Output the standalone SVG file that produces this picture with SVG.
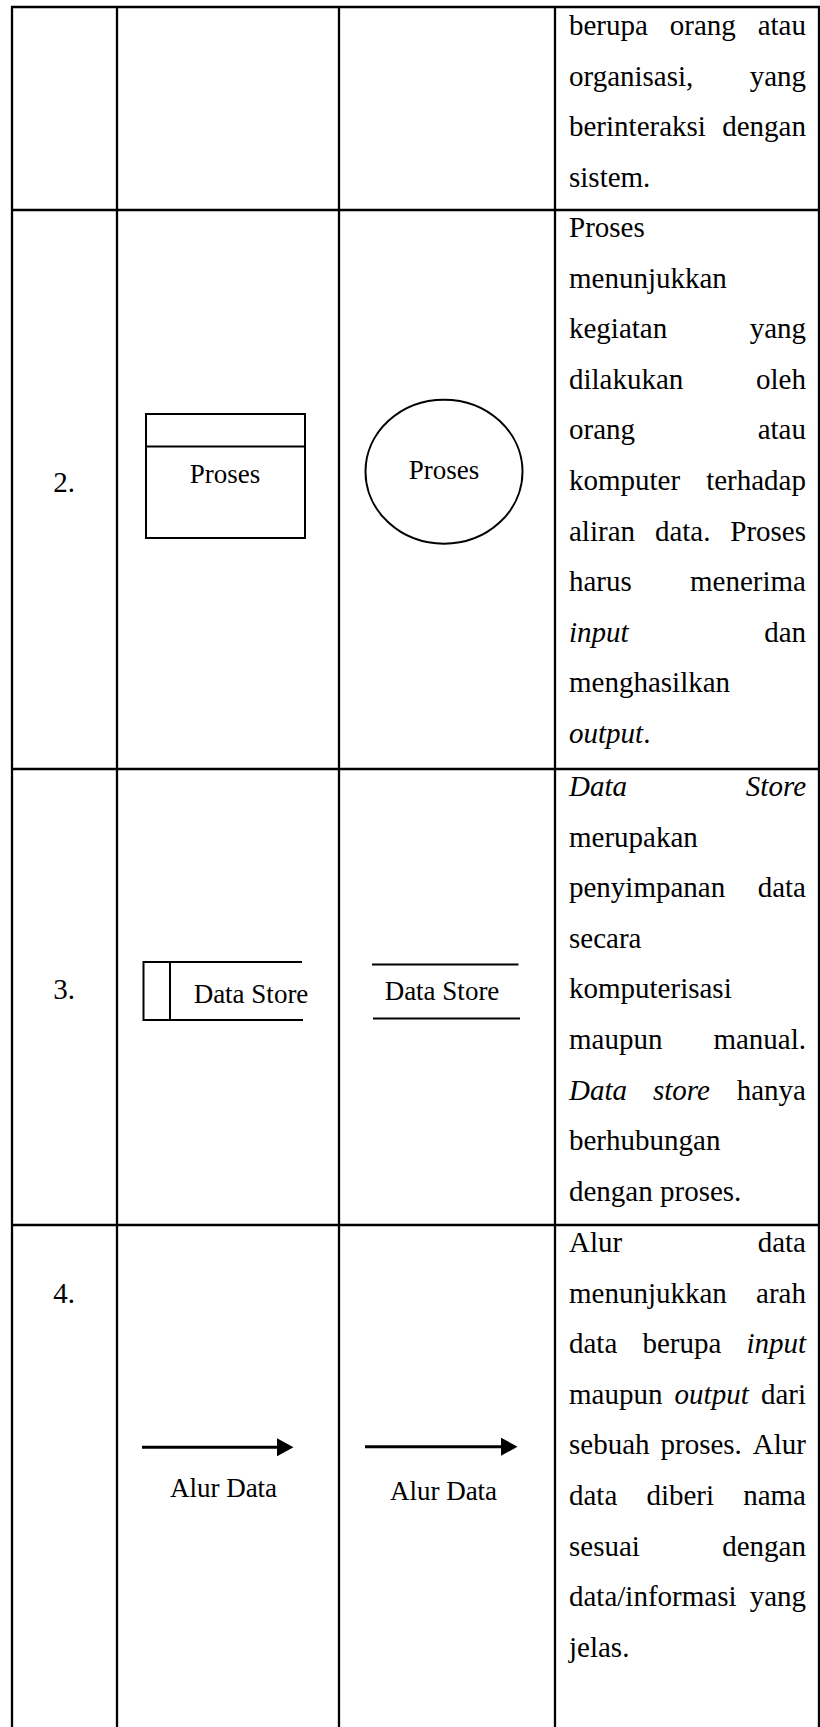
<svg xmlns="http://www.w3.org/2000/svg" width="820" height="1727" viewBox="0 0 820 1727">
<style>
.grid{stroke:#000;stroke-width:2.3;fill:none}
.shape{stroke:#000;stroke-width:2;fill:none}
.t{font-family:"Liberation Serif","Times New Roman",serif;font-size:29px;fill:#000}
.lbl{font-family:"Liberation Serif","Times New Roman",serif;font-size:27px;fill:#000}
.i{font-style:italic}
.e{text-anchor:end}
.m{text-anchor:middle}
</style>
<defs>
<marker id="ah" markerWidth="6" markerHeight="6" refX="0" refY="3" orient="auto" markerUnits="strokeWidth">
<path d="M0,0 L5.5,3 L0,6 Z" fill="#000"/>
</marker>
</defs>
<rect width="820" height="1727" fill="#fff"/>
<g id="table-grid" class="grid">
<line x1="11" y1="7" x2="820" y2="7"/>
<line x1="11" y1="210" x2="820" y2="210"/>
<line x1="11" y1="769" x2="820" y2="769"/>
<line x1="11" y1="1225" x2="820" y2="1225"/>
<line x1="12" y1="6" x2="12" y2="1727"/>
<line x1="117" y1="6" x2="117" y2="1727"/>
<line x1="339" y1="6" x2="339" y2="1727"/>
<line x1="555" y1="6" x2="555" y2="1727"/>
<line x1="819" y1="6" x2="819" y2="1727"/>
</g>
<g id="row1-desc" class="t">
<text x="569" y="35">berupa</text><text x="669.8" y="35">orang</text><text x="806" y="35" class="e">atau</text>
<text x="569" y="85.6">organisasi,</text><text x="806" y="85.6" class="e">yang</text>
<text x="569" y="136.2">berinteraksi</text><text x="806" y="136.2" class="e">dengan</text>
<text x="569" y="186.8">sistem.</text>
</g>
<g id="row2-no" class="t"><text x="64" y="492" class="m">2.</text></g>
<g id="row2-gane-sarson">
<rect x="146" y="414" width="159" height="124" class="shape"/>
<line x1="146" y1="446.5" x2="305" y2="446.5" class="shape"/>
<text x="225" y="483" class="lbl m">Proses</text>
</g>
<g id="row2-yourdon">
<ellipse cx="444" cy="471.7" rx="78.5" ry="72" class="shape"/>
<text x="444" y="479" class="lbl m">Proses</text>
</g>
<g id="row2-desc" class="t">
<text x="569" y="237">Proses</text>
<text x="569" y="287.6">menunjukkan</text>
<text x="569" y="338.2">kegiatan</text><text x="806" y="338.2" class="e">yang</text>
<text x="569" y="388.8">dilakukan</text><text x="806" y="388.8" class="e">oleh</text>
<text x="569" y="439.4">orang</text><text x="806" y="439.4" class="e">atau</text>
<text x="569" y="490">komputer</text><text x="806" y="490" class="e">terhadap</text>
<text x="569" y="540.6">aliran</text><text x="654.9" y="540.6">data.</text><text x="806" y="540.6" class="e">Proses</text>
<text x="569" y="591.2">harus</text><text x="806" y="591.2" class="e">menerima</text>
<text x="569" y="641.8" class="i">input</text><text x="806" y="641.8" class="e">dan</text>
<text x="569" y="692.4">menghasilkan</text>
<text x="569" y="743"><tspan class="i">output</tspan>.</text>
</g>
<g id="row3-no" class="t"><text x="64" y="999" class="m">3.</text></g>
<g id="row3-gane-sarson">
<path d="M302,962 L143.5,962 L143.5,1020 L303,1020" class="shape"/>
<line x1="170" y1="962" x2="170" y2="1020" class="shape"/>
<text x="251" y="1002.5" class="lbl m">Data Store</text>
</g>
<g id="row3-yourdon">
<line x1="372" y1="964.5" x2="518.5" y2="964.5" class="shape"/>
<line x1="373" y1="1018.5" x2="520" y2="1018.5" class="shape"/>
<text x="442" y="1000" class="lbl m">Data Store</text>
</g>
<g id="row3-desc" class="t">
<text x="569" y="796" class="i">Data</text><text x="806" y="796" class="e i">Store</text>
<text x="569" y="846.6">merupakan</text>
<text x="569" y="897.2">penyimpanan</text><text x="806" y="897.2" class="e">data</text>
<text x="569" y="947.8">secara</text>
<text x="569" y="998.4">komputerisasi</text>
<text x="569" y="1049">maupun</text><text x="806" y="1049" class="e">manual.</text>
<text x="569" y="1099.6" class="i">Data</text><text x="652.9" y="1099.6" class="i">store</text><text x="806" y="1099.6" class="e">hanya</text>
<text x="569" y="1150.2">berhubungan</text>
<text x="569" y="1200.8">dengan proses.</text>
</g>
<g id="row4-no" class="t"><text x="64" y="1303" class="m">4.</text></g>
<g id="connectors">
<line x1="142" y1="1447.3" x2="277" y2="1447.3" stroke="#000" stroke-width="3" marker-end="url(#ah)"/>
<line x1="365" y1="1446.7" x2="501" y2="1446.7" stroke="#000" stroke-width="3" marker-end="url(#ah)"/>
</g>
<g id="row4-gane-sarson"><text x="223.5" y="1497" class="lbl m">Alur Data</text></g>
<g id="row4-yourdon"><text x="443.5" y="1499.5" class="lbl m">Alur Data</text></g>
<g id="row4-desc" class="t">
<text x="569" y="1252">Alur</text><text x="806" y="1252" class="e">data</text>
<text x="569" y="1302.6">menunjukkan</text><text x="806" y="1302.6" class="e">arah</text>
<text x="569" y="1353.2">data</text><text x="642.4" y="1353.2">berupa</text><text x="806" y="1353.2" class="e i">input</text>
<text x="569" y="1403.8">maupun</text><text x="674.6" y="1403.8" class="i">output</text><text x="806" y="1403.8" class="e">dari</text>
<text x="569" y="1454.4">sebuah</text><text x="660.5" y="1454.4">proses.</text><text x="806" y="1454.4" class="e">Alur</text>
<text x="569" y="1505">data</text><text x="646.4" y="1505">diberi</text><text x="806" y="1505" class="e">nama</text>
<text x="569" y="1555.6">sesuai</text><text x="806" y="1555.6" class="e">dengan</text>
<text x="569" y="1606.2">data/informasi</text><text x="806" y="1606.2" class="e">yang</text>
<text x="569" y="1656.8">jelas.</text>
</g>
</svg>
